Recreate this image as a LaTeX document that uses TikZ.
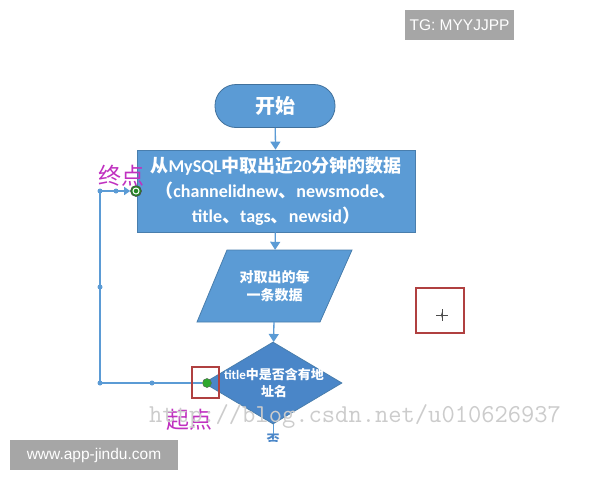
\documentclass[tikz,border=0pt]{standalone}
\usepackage{fontspec}
\setmainfont{Carlito}
\newfontfamily\cjk{Noto Sans CJK SC}
\newfontfamily\lat{Carlito}
\newfontfamily\arial{Liberation Sans}
\usetikzlibrary{shapes.geometric,arrows.meta}
\definecolor{fillblue}{HTML}{5B9BD5}
\definecolor{edgeblue}{HTML}{41719C}
\definecolor{lineblue}{HTML}{5B9BD5}
\definecolor{darkblue}{HTML}{4A86C8}
\definecolor{redbox}{HTML}{B04040}
\definecolor{mag}{HTML}{C030C0}
\definecolor{wmgray}{HTML}{A6A6A6}
\definecolor{dotgreen}{HTML}{2EA82E}
\begin{document}
\begin{tikzpicture}[x=1pt,y=-1pt,
  shapefill/.style={fill=fillblue,draw=edgeblue!70!fillblue,line width=0.8pt},
  wtext/.style={text=white,align=center},
  flow/.style={draw=lineblue,line width=1.3pt,-{Triangle[length=8pt,width=10pt]}},
  loopline/.style={draw=lineblue,line width=1.3pt},
  joint/.style={circle,fill=lineblue,inner sep=0pt,minimum size=5pt},
  markbox/.style={draw=redbox,line width=1.2pt},
  handlabel/.style={text=mag,font=\cjk\fontsize{23}{23}\selectfont},
  graybox/.style={fill=wmgray,text=white,inner sep=0pt,font=\arial\fontsize{15.5}{16}\selectfont,minimum height=30pt}
]
\useasboundingbox (0,0) rectangle (600,480);
\fill[white] (0,0) rectangle (600,480);

% start
\node[shapefill,draw=edgeblue,rounded corners=21pt,minimum width=120pt,minimum height=43pt,wtext,
  font=\cjk\bfseries\fontsize{20}{24}\selectfont] (start) at (275,106) {开始};

% fetch box
\node[shapefill,minimum width=278pt,minimum height=82pt,wtext,inner sep=0pt,
  font=\cjk\bfseries\fontsize{18}{25}\selectfont] (fetch) at (276,191)
  {从{\lat\bfseries MySQL}中取出近{\lat\bfseries 20}分钟的数据\\
   （{\lat\bfseries channelidnew}、{\lat\bfseries newsmode}、\\
   {\lat\bfseries title}、{\lat\bfseries tags}、{\lat\bfseries newsid}）};

% parallelogram
\path[shapefill] (227,250) -- (352,250) -- (320,322) -- (197,322) -- cycle;
\node[minimum width=155pt,minimum height=72pt,inner sep=0pt,wtext,
  font=\cjk\bfseries\fontsize{14}{18}\selectfont] (each) at (274.5,286) {对取出的每\\一条数据};

% decision
\node[diamond,shapefill,fill=darkblue,inner sep=0pt,minimum width=138pt,minimum height=82pt,aspect=1.68] (decide) at (273,383) {};
\node[wtext,inner sep=0pt,font=\cjk\bfseries\fontsize{13}{17}\selectfont] (decidetext) at (274,383)
  {{\lat\bfseries title}中是否含有地\\址名};

% connectors
\draw[flow] (start) -- (fetch);
\draw[flow] (fetch) -- (each);
\draw[flow] (each) -- (decide);

\begin{scope}
\clip (240,423) rectangle (310,441);
\node[text=darkblue,inner sep=0pt,font=\cjk\bfseries\fontsize{13}{13}\selectfont] (no) at (273,440) {否};
\draw[loopline,line width=1pt] (decide.south) -- (no.north);
\end{scope}

% loop back
\coordinate (c1) at (100,383);
\coordinate (c2) at (100,191);
\node[circle,fill=dotgreen,inner sep=0pt,minimum size=9pt] (src) at (207,383) {};
\node[circle,fill=dotgreen!80!black,draw=black!70,line width=0.6pt,inner sep=0pt,minimum size=11pt] (dst) at (136,191) {};
\draw[loopline,-{Triangle[length=6pt,width=8pt]}] (src) -- (c1) -- (c2) -- (dst);
\draw[white,line width=1pt] (dst.center) circle (3pt);
\node[joint] (j1) at (c1) {};
\node[joint] (j2) at (152,383) {};
\node[joint] (j3) at (100,287) {};
\node[joint] (j4) at (c2) {};
\node[joint] (j5) at (116,191) {};
\node[circle,fill=dotgreen,draw=black!60,line width=0.4pt,inner sep=0pt,minimum size=9pt] (src2) at (src) {};

% red marker boxes
\draw[markbox] (192,367) rectangle (219,398);
\draw[markbox] (416,288) rectangle (464,333);
\draw[black!70,line width=0.8pt] (436,315) -- (448,315) (442,309) -- (442,321);
\fill[black!70] (442,312) -- (443,315) -- (442,318) -- (441,315) -- cycle;

% hand labels
\node[handlabel] (endlabel) at (121,176) {终点};
\node[handlabel] (startlabel) at (189,420) {起点};

% watermark
\node[text=black!20,inner sep=0pt,font=\ttfamily\fontsize{25.8}{26}\selectfont,anchor=base west] (wm) at (149,422) {http://blog.csdn.net/u010626937};

% gray boxes
\node[graybox,minimum width=109pt] (tg) at (459.5,25) {TG: MYYJJPP};
\node[graybox,minimum width=168pt] (site) at (94,455) {www.app-jindu.com};
\end{tikzpicture}
\end{document}
